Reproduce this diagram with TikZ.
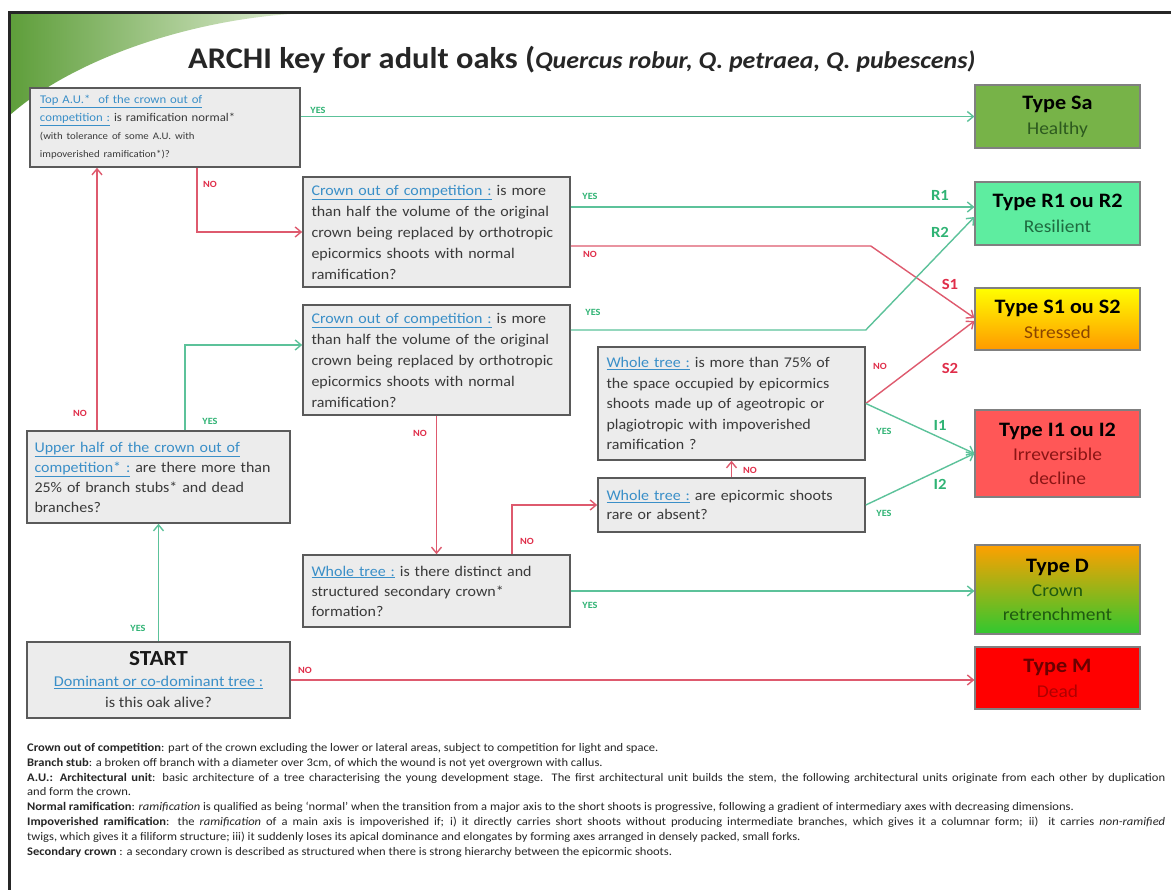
\documentclass[tikz,border=0pt]{standalone}
\usepackage{fontspec}
\setmainfont{Carlito}[FakeStretch=1.08]
\usetikzlibrary{arrows.meta,calc}
\definecolor{boxfill}{HTML}{ECECEC}
\definecolor{boxline}{HTML}{5A5A5A}
\definecolor{boxtext}{HTML}{3A3A3A}
\definecolor{lgreen}{HTML}{5CC29A}
\definecolor{lred}{HTML}{DE5A6E}
\definecolor{tgreen}{HTML}{2FB374}
\definecolor{tred}{HTML}{E02E4A}
\definecolor{ulblue}{HTML}{3A8FC8}
\definecolor{swA}{HTML}{5E9E3A}
\definecolor{swB}{HTML}{DDEBD0}
\definecolor{saFill}{HTML}{77B348}
\definecolor{saText}{HTML}{2D5A1F}
\definecolor{rFill}{HTML}{5EEDA0}
\definecolor{rText}{HTML}{1E6B40}
\definecolor{sTop}{HTML}{FFFF00}
\definecolor{sBot}{HTML}{FF9900}
\definecolor{sText}{HTML}{8B4500}
\definecolor{iFill}{HTML}{FF5757}
\definecolor{iText}{HTML}{8B1515}
\definecolor{dTop}{HTML}{FFA000}
\definecolor{dMid}{HTML}{C8BE28}
\definecolor{dBot}{HTML}{30C830}
\definecolor{dText}{HTML}{1F5A10}
\definecolor{mFill}{HTML}{FF0000}
\definecolor{mText}{HTML}{6B0000}
\definecolor{mSub}{HTML}{B00000}
\newcommand{\ulb}[1]{{\color{ulblue}\underline{#1}}}
\begin{document}
\begin{tikzpicture}[x=1pt,y=-1pt,
  qbox/.style={draw=boxline,line width=1.6pt,fill=boxfill,inner sep=0pt,align=left,
    text=boxtext,font=\fontsize{14.8}{21}\selectfont},
  tbox/.style={draw=black!50,line width=1.2pt,minimum width=165pt,align=center,inner sep=0pt,
    font=\fontsize{20.5}{25}\selectfont},
  gline/.style={draw=lgreen,line width=1.4pt,-{Straight Barb[length=6pt,width=10pt]}},
  rline/.style={draw=lred,line width=1.4pt,-{Straight Barb[length=6pt,width=10pt]}},
  yes/.style={text=tgreen,font=\fontsize{9.5}{10}\selectfont\bfseries},
  no/.style={text=tred,font=\fontsize{9.5}{10}\selectfont\bfseries},
  glab/.style={text=tgreen,font=\fontsize{15.5}{16}\selectfont\bfseries},
  rlab/.style={text=tred,font=\fontsize{15.5}{16}\selectfont\bfseries},
  legend/.style={anchor=base west,inner sep=0pt,text=black!85,font=\fontsize{11.6}{12}\selectfont}]
\useasboundingbox (0,0) rectangle (1171,890);
\fill[white] (0,0) rectangle (1171,890);
% decorative swoosh
\shade[left color=swA,right color=swB] (10,14) -- (290,14) .. controls (180,22) and (70,62) .. (10,115) -- cycle;
% frame
\draw[line width=3pt,black!85] (8,13) -- (1171,13);
\draw[line width=3pt,black!85] (9,13) -- (9,890);
% title
\node[anchor=west,inner sep=0pt,text=black!85] (title) at (188,60)
  {\fontsize{30}{32}\selectfont\bfseries ARCHI key for adult oaks (\fontsize{24}{26}\selectfont\itshape Quercus robur, Q. petraea, Q. pubescens)};
% question boxes
\node[qbox,minimum width=270pt,minimum height=79pt,text width=250pt,font=\fontsize{11.8}{18}\selectfont] (top) at (165,127.5)
  {\ulb{Top A.U.*\ \ of the crown out of}\\\ulb{competition :} is ramification normal*\\\fontsize{10}{18}\selectfont(with tolerance of some A.U. with\\impoverished ramification*)?};
\node[qbox,minimum width=267pt,minimum height=110pt,text width=250pt] (c1) at (436.5,232)
  {\ulb{Crown out of competition :} is more\\than half the volume of the original\\crown being replaced by orthotropic\\epicormics shoots with normal\\ramification?};
\node[qbox,minimum width=267pt,minimum height=110pt,text width=250pt] (c2) at (436.5,360)
  {\ulb{Crown out of competition :} is more\\than half the volume of the original\\crown being replaced by orthotropic\\epicormics shoots with normal\\ramification?};
\node[qbox,minimum width=267pt,minimum height=113pt,text width=250pt,font=\fontsize{14.8}{20.5}\selectfont] (w75) at (731.5,403.5)
  {\ulb{Whole tree :} is more than 75\% of\\the space occupied by epicormics\\shoots made up of ageotropic or\\plagiotropic with impoverished\\ramification ?};
\node[qbox,minimum width=267pt,minimum height=54pt,text width=250pt,font=\fontsize{14.8}{19.5}\selectfont] (rare) at (731.5,505)
  {\ulb{Whole tree :} are epicormic shoots\\rare or absent?};
\node[qbox,minimum width=267pt,minimum height=72pt,text width=250pt,font=\fontsize{14.8}{20}\selectfont] (sec) at (436.5,591)
  {\ulb{Whole tree :} is there distinct and\\structured secondary crown*\\formation?};
\node[qbox,minimum width=263pt,minimum height=92pt,text width=248pt,font=\fontsize{14.8}{20}\selectfont] (upper) at (158.5,477)
  {\ulb{Upper half of the crown out of}\\\ulb{competition* :} are there more than\\25\% of branch stubs* and dead\\branches?};
\node[qbox,minimum width=263pt,minimum height=76pt,align=center,font=\fontsize{15}{21}\selectfont] (start) at (158.5,680)
  {{\fontsize{21.5}{21}\selectfont\bfseries\color{black!90}START}\\\ulb{Dominant or co-dominant tree :}\\is this oak alive?};
% type boxes
\node[tbox,fill=saFill,minimum height=63pt] (sa) at (1057.5,116.5)
  {\textbf{Type Sa}\\\fontsize{18}{25}\selectfont\color{saText}Healthy};
\node[tbox,fill=rFill,minimum height=63pt] (rr) at (1057.5,213.5)
  {\textbf{Type R1 ou R2}\\\fontsize{18}{25}\selectfont\color{rText}Resilient};
\node[tbox,top color=sTop,bottom color=sBot,minimum height=62pt] (ss) at (1057.5,319)
  {\textbf{Type S1 ou S2}\\\fontsize{18}{25}\selectfont\color{sText}Stressed};
\node[tbox,fill=iFill,minimum height=87pt,font=\fontsize{20.5}{24}\selectfont] (ii) at (1057.5,453.5)
  {\textbf{Type I1 ou I2}\\\fontsize{18}{24}\selectfont\color{iText}Irreversible\\\fontsize{18}{24}\selectfont\color{iText}decline};
\node[tbox,top color=dTop,middle color=dMid,bottom color=dBot,minimum height=89pt,font=\fontsize{20.5}{24}\selectfont] (dd) at (1057.5,589.5)
  {\textbf{Type D}\\\fontsize{18}{24}\selectfont\color{dText}Crown\\\fontsize{18}{24}\selectfont\color{dText}retrenchment};
\node[tbox,fill=mFill,minimum height=62pt] (mm) at (1057.5,678)
  {\textbf{\color{mText}Type M}\\\fontsize{18}{25}\selectfont\color{mSub}Dead};
% connectors
\draw[gline] (top.east |- sa.west) -- (sa.west);
\draw[rline] ([xshift=32pt]top.south) |- (c1.west);
\draw[rline] ([xshift=-61.5pt]upper.north) -- ([xshift=-61.5pt]upper.north |- top.south);
\draw[gline] ([xshift=26.5pt]upper.north) |- ([yshift=15pt]c2.west);
\draw[gline] (start.north) -- (upper.south);
\draw[rline] (start.east) -- (start.east -| mm.west);
\coordinate (r1in) at ([yshift=6.5pt]rr.west);
\coordinate (r2in) at ([yshift=-3.5pt]rr.west);
\draw[gline] (c1.east |- r1in) -- (r1in);
\draw[rline] ([yshift=-14pt]c1.east) -- ++(300,0) -- ([yshift=1pt]ss.west);
\draw[gline] ([yshift=30pt]c2.east) -- ++(295,0) -- (r2in);
\draw[rline] (c2.south) -- (sec.north);
\draw[gline] (sec.east) -- (sec.east -| dd.west);
\draw[rline] ([xshift=75.5pt]sec.north) |- (rare.west);
\draw[rline] (rare.north) -- (w75.south);
\draw[rline] (w75.east) -- ([yshift=-2pt]ss.west);
\draw[gline] (w75.east) -- (ii.west);
\draw[gline] (rare.east) -- (ii.west);
% connector labels
\node[yes] (l1) at (318,110) {YES};
\node[no] (l2) at (210,184) {NO};
\node[no] (l3) at (80,413) {NO};
\node[yes] (l4) at (210,421) {YES};
\node[yes] (l5) at (138,628) {YES};
\node[no] (l6) at (305,670) {NO};
\node[yes] (l7) at (590,196) {YES};
\node[no] (l8) at (590,254) {NO};
\node[glab] (l9) at (940,195) {R1};
\node[glab] (l10) at (940,232) {R2};
\node[rlab] (l11) at (950,284) {S1};
\node[yes] (l12) at (593,312) {YES};
\node[no] (l13) at (420,433) {NO};
\node[rlab] (l14) at (950,368) {S2};
\node[no] (l15) at (880,366) {NO};
\node[yes] (l16) at (884,431) {YES};
\node[glab] (l17) at (940,425) {I1};
\node[glab] (l18) at (940,484) {I2};
\node[yes] (l19) at (884,513) {YES};
\node[no] (l20) at (750,470) {NO};
\node[no] (l21) at (527,541) {NO};
\node[yes] (l22) at (590,605) {YES};
% legend
\node[legend] (g1) at (27,751) {\textbf{Crown out of competition}: part of the crown excluding the lower or lateral areas, subject to competition for light and space.};
\node[legend] (g2) at (27,766) {\textbf{Branch stub}: a broken off branch with a diameter over 3cm, of which the wound is not yet overgrown with callus.};
\node[legend] (g3) at (27,781) {\makebox[1138pt][s]{\textbf{A.U.: Architectural unit}: basic architecture of a tree characterising the young development stage. The first architectural unit builds the stem, the following architectural units originate from each other by duplication}};
\node[legend] (g4) at (27,795) {and form the crown.};
\node[legend] (g5) at (27,810) {\textbf{Normal ramification}: \textit{ramification} is qualified as being `normal' when the transition from a major axis to the short shoots is progressive, following a gradient of intermediary axes with decreasing dimensions.};
\node[legend] (g6) at (27,825) {\makebox[1138pt][s]{\textbf{Impoverished ramification}: the \textit{ramification} of a main axis is impoverished if; i) it directly carries short shoots without producing intermediate branches, which gives it a columnar form; ii)\ \ it carries \textit{non-ramified}}};
\node[legend] (g7) at (27,840) {twigs, which gives it a filiform structure; iii) it suddenly loses its apical dominance and elongates by forming axes arranged in densely packed, small forks.};
\node[legend] (g8) at (27,855) {\textbf{Secondary crown} : a secondary crown is described as structured when there is strong hierarchy between the epicormic shoots.};
\end{tikzpicture}
\end{document}
